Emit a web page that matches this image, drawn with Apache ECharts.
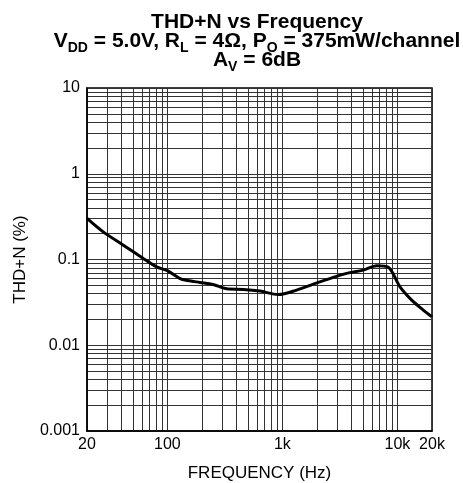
<!DOCTYPE html>
<html><head><meta charset="utf-8">
<script src="https://cdn.jsdelivr.net/npm/echarts@6/dist/echarts.min.js"></script>
<style>html,body{margin:0;padding:0;background:#fff}#c{width:463px;height:483px}</style>
</head><body><div id="c"></div>
<script>
const freq = [20, 27.7, 41.4, 61.8, 80.7, 100, 128.8, 150, 192, 250, 328, 457, 638, 922, 1332, 1859, 2774, 3625, 5057, 6612, 8340, 10540, 13320, 16800, 20000];
const thdn = [0.302, 0.21, 0.147, 0.103, 0.082, 0.074, 0.06, 0.057, 0.054, 0.051, 0.0455, 0.0448, 0.0428, 0.039, 0.044, 0.0516, 0.0618, 0.0689, 0.0752, 0.0845, 0.081, 0.048, 0.0336, 0.0257, 0.0214];
const xGrid = [20,30,40,50,60,70,80,90,100,200,300,400,500,600,700,800,900,1000,2000,3000,4000,5000,6000,7000,8000,9000,10000,20000];
const xLabelVals = [20, 100, 1000, 10000, 20000];
const xLabelText = ['20', '100', '1k', '10k', '20k'];
const yGrid = [0.001,0.002,0.003,0.004,0.005,0.006,0.007,0.008,0.009,0.01,0.02,0.03,0.04,0.05,0.06,0.07,0.08,0.09,0.1,0.2,0.3,0.4,0.5,0.6,0.7,0.8,0.9,1,2,3,4,5,6,7,8,9,10];
const yLabelVals = [0.001, 0.01, 0.1, 1, 10];
const yLabelText = ['0.001', '0.01', '0.1', '1', '10'];

const chart = echarts.init(document.getElementById('c'));
const F = 'Liberation Sans, Arial, sans-serif';
chart.setOption({
  animation: false,
  title: {
    left: 252, top: 9, textAlign: 'center',
    text: '{m|THD+N vs Frequency}\n{m|V}{s|DD}{m| = 5.0V, R}{s|L}{m| = 4Ω, P}{s|O}{m| = 375mW/channel}\n{m|A}{s|V}{m| = 6dB}',
    textStyle: {
      fontFamily: F, fontWeight: 'bold', fontSize: 21, color: '#000',
      rich: {
        m: {fontFamily: F, fontWeight: 'bold', fontSize: 21, lineHeight: 19, color: '#000', verticalAlign: 'bottom'},
        s: {fontFamily: F, fontWeight: 'bold', fontSize: 14, lineHeight: 14, color: '#000', verticalAlign: 'bottom', padding: [0,0,-3,0]}
      }
    }
  },
  grid: {left: 87, right: 31, top: 88, bottom: 52, show: true, borderColor: '#000', borderWidth: 1.5, outerBoundsMode: 'none', containLabel: false},
  xAxis: {
    type: 'log', min: 20, max: 20000,
    name: 'FREQUENCY (Hz)', nameLocation: 'middle', nameGap: 34,
    nameTextStyle: {fontFamily: F, fontSize: 17, color: '#000'},
    axisLine: {show: true, lineStyle: {color: '#000', width: 1.5}},
    axisTick: {show: false, customValues: xGrid},
    splitLine: {show: true, lineStyle: {color: '#333', width: 1}},
    axisLabel: {customValues: xLabelVals, fontFamily: F, fontSize: 16, color: '#000', margin: 6,
      formatter: v => { const i = xLabelVals.findIndex(t => Math.abs(t - v) / t < 1e-6); return i >= 0 ? xLabelText[i] : ''; }}
  },
  yAxis: {
    type: 'log', min: 0.001, max: 10,
    name: 'THD+N (%)', nameLocation: 'middle', nameGap: 58,
    nameTextStyle: {fontFamily: F, fontSize: 17, color: '#000'},
    axisLine: {show: true, lineStyle: {color: '#000', width: 1.5}},
    axisTick: {show: false, customValues: yGrid},
    splitLine: {show: true, lineStyle: {color: '#333', width: 1}},
    axisLabel: {customValues: yLabelVals, fontFamily: F, fontSize: 16, color: '#000', margin: 7,
      formatter: v => { const i = yLabelVals.findIndex(t => Math.abs(t - v) / t < 1e-6); return i >= 0 ? yLabelText[i] : ''; }}
  },
  series: [{
    type: 'line', data: freq.map((f, i) => [f, thdn[i]]),
    showSymbol: false, smooth: 0.3,
    lineStyle: {color: '#000', width: 3}
  }]
});
</script></body></html>
